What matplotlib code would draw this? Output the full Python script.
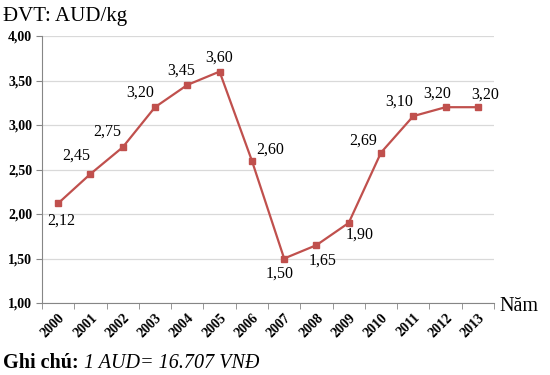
import numpy as np
import matplotlib
matplotlib.use("Agg")
import matplotlib.pyplot as plt

years = ['2000', '2001', '2002', '2003', '2004', '2005', '2006',
         '2007', '2008', '2009', '2010', '2011', '2012', '2013']
price = [2.12, 2.45, 2.75, 3.20, 3.45, 3.60, 2.60,
         1.50, 1.65, 1.90, 2.69, 3.10, 3.20, 3.20]
yticks = [1.0, 1.5, 2.0, 2.5, 3.0, 3.5, 4.0]

# label offsets in pixels (dx, dy), dy up
offs = [(3, -17), (-14, 18), (-15, 16), (-15, 15), (-6, 14), (0, 14), (18, 11),
        (-5, -15), (6, -15), (11, -12), (-18, 12), (-14, 14), (-8, 14), (7, 13)]

plt.rcParams['font.family'] = ['Liberation Serif', 'DejaVu Serif']

fig = plt.figure(figsize=(5.5, 3.75), dpi=100)
ax = fig.add_axes([42/550, 1-303/375, 452/550, 267/375])

x = np.arange(len(years))
col = '#C0504D'
ax.plot(x, price, color=col, lw=1.6, marker='s', ms=5, mec=col, mfc=col, zorder=3)

for i, v in enumerate(price):
    ax.annotate(('%.2f' % v).replace('.', ','), (x[i], v), xytext=offs[i],
                textcoords='offset pixels', ha='center', va='center', fontsize=11.5)

ax.set_xlim(-0.5, len(years) - 0.5)
ax.set_ylim(1, 4)
ax.set_yticks(yticks)
ax.set_yticklabels([('%.2f' % t).replace('.', ',') for t in yticks],
                   fontsize=10, fontweight='bold')
ax.set_xticks(x)
ax.set_xticklabels(years, rotation=45, ha='right', va='top', rotation_mode='anchor',
                   fontsize=10, fontweight='bold')
ax.set_xticks(np.arange(-0.5, len(years)), minor=True)
ax.tick_params(axis='x', which='major', length=0, pad=6)
ax.tick_params(axis='x', which='minor', length=4, color='#868686')
ax.tick_params(axis='y', length=4, color='#868686', pad=3)
ax.grid(axis='y', color='#d9d9d9', lw=0.9)
ax.set_axisbelow(True)
for s in ['top', 'right']:
    ax.spines[s].set_visible(False)
for s in ['left', 'bottom']:
    ax.spines[s].set_color('#868686')

fig.text(3/550, 1-21/375, 'ĐVT: AUD/kg', fontsize=15, va='baseline', ha='left')
fig.text(499/550, 1-311/375, 'Năm', fontsize=14.5, va='baseline', ha='left')

t1 = fig.text(3/550, 1-368/375, 'Ghi chú: ', fontsize=14.5, fontweight='bold', va='baseline')
fig.canvas.draw()
bb = t1.get_window_extent()
fig.text(bb.x1/550, 1-368/375, '1 AUD= 16.707 VNĐ', fontsize=14.5, style='italic', va='baseline')

fig.savefig('out.png', dpi=100)
